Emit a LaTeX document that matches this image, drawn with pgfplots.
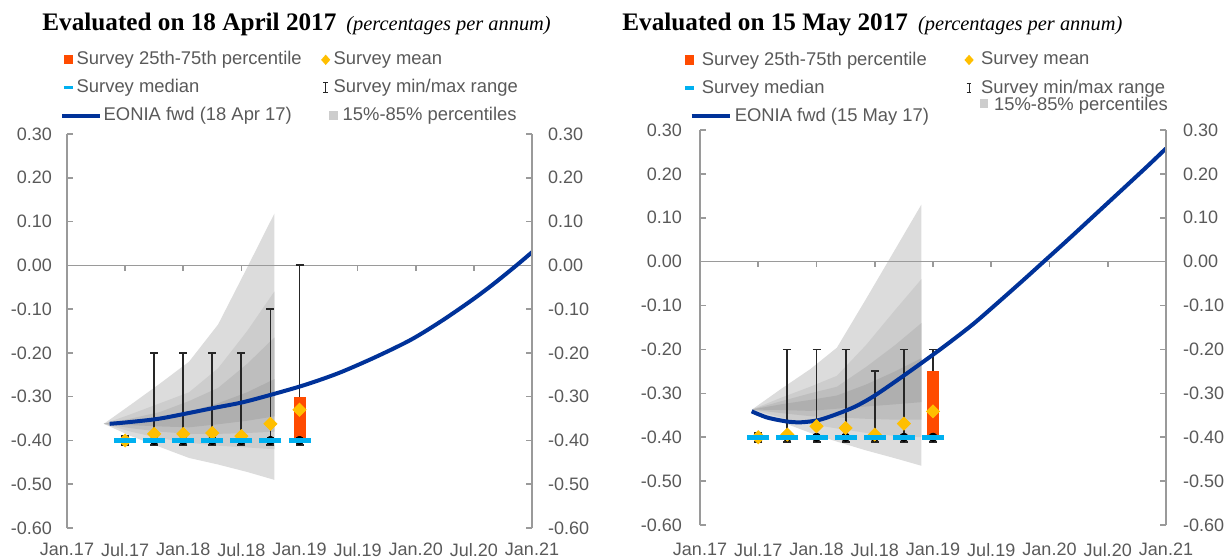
\documentclass[border=0pt]{standalone}
\usepackage{fontspec}
\setmainfont{Liberation Sans}
\newfontfamily\titlefont{Liberation Serif}
\usepackage{pgfplots}
\usepackage{pgfplotstable}
\pgfplotsset{compat=1.18}
\usepgfplotslibrary{fillbetween}

\definecolor{ecborange}{HTML}{FF4B00}
\definecolor{meanyellow}{HTML}{FFBF00}
\definecolor{medcyan}{HTML}{00B0F0}
\definecolor{eoniablue}{HTML}{003299}
\definecolor{fanA}{HTML}{DCDCDC}
\definecolor{fanB}{HTML}{CDCDCD}
\definecolor{fanC}{HTML}{BEBEBE}
\definecolor{fanD}{HTML}{AFAFAF}
\definecolor{axgrey}{HTML}{9A9A9A}
\definecolor{txtgrey}{HTML}{595959}
\definecolor{barblack}{HTML}{262626}

% percentile fans (quantile curves q1 ... q8, outer to inner to outer)
\pgfplotstableread{
x     q1     q2     q3     q4     q5     q6     q7     q8
3.8  -0.362 -0.362 -0.362 -0.362 -0.362 -0.362 -0.362 -0.362
6.6  -0.390 -0.380 -0.372 -0.365 -0.356 -0.350 -0.340 -0.318
9.6  -0.415 -0.395 -0.380 -0.368 -0.348 -0.335 -0.315 -0.270
12.6 -0.440 -0.405 -0.385 -0.370 -0.335 -0.310 -0.290 -0.220
15.6 -0.455 -0.412 -0.385 -0.363 -0.315 -0.280 -0.235 -0.135
18.6 -0.472 -0.416 -0.383 -0.355 -0.290 -0.225 -0.150 -0.005
21.4 -0.490 -0.420 -0.380 -0.345 -0.260 -0.165 -0.060  0.118
}\leftfan

\pgfplotstableread{
x     q1     q2     q3     q4     q5     q6     q7     q8
5.35 -0.337 -0.337 -0.337 -0.337 -0.337 -0.337 -0.337 -0.337
8.35 -0.365 -0.355 -0.345 -0.338 -0.325 -0.318 -0.310 -0.290
11.35 -0.390 -0.370 -0.352 -0.340 -0.315 -0.300 -0.285 -0.245
14.1 -0.410 -0.380 -0.355 -0.335 -0.305 -0.285 -0.260 -0.196
17.1 -0.430 -0.390 -0.358 -0.330 -0.280 -0.240 -0.190 -0.085
20.1 -0.448 -0.397 -0.360 -0.325 -0.250 -0.190 -0.110  0.028
22.8 -0.465 -0.400 -0.360 -0.320 -0.220 -0.140 -0.040  0.130
}\rightfan

% survey: median, mean, 25th, 75th, min, max
\pgfplotstableread{
x  med    mean    p25    p75    min    max
6  -0.40  -0.400  -0.40  -0.40  -0.41  -0.39
9  -0.40  -0.385  -0.40  -0.40  -0.41  -0.20
12 -0.40  -0.385  -0.40  -0.40  -0.41  -0.20
15 -0.40  -0.383  -0.40  -0.40  -0.41  -0.20
18 -0.40  -0.390  -0.40  -0.40  -0.41  -0.20
21 -0.40  -0.362  -0.40  -0.40  -0.41  -0.10
24 -0.40  -0.330  -0.40  -0.30  -0.41   0.00
}\leftsurvey

\pgfplotstableread{
x  med    mean    p25    p75    min    max
6  -0.40  -0.400  -0.40  -0.40  -0.41  -0.39
9  -0.40  -0.394  -0.40  -0.40  -0.41  -0.20
12 -0.40  -0.375  -0.40  -0.40  -0.41  -0.20
15 -0.40  -0.379  -0.40  -0.40  -0.41  -0.20
18 -0.40  -0.394  -0.40  -0.40  -0.41  -0.25
21 -0.40  -0.369  -0.40  -0.40  -0.41  -0.20
24 -0.40  -0.341  -0.40  -0.25  -0.41  -0.20
}\rightsurvey

% EONIA forward curves
\pgfplotstableread{
x     y
4.4  -0.362
6.0  -0.359
9.3  -0.351
12.2 -0.339
15.1 -0.326
18.1 -0.313
21.0 -0.296
24.0 -0.277
26.2 -0.261
28.5 -0.242
31.9 -0.209
35.5 -0.170
38.6 -0.128
41.7 -0.081
44.0 -0.043
46.4  0.000
48.0  0.030
}\lefteonia

\pgfplotstableread{
x     y
5.32 -0.341
6.9  -0.355
8.9  -0.364
10.4 -0.366
12.2 -0.361
14.0 -0.348
16.0 -0.330
18.0 -0.305
20.9 -0.261
24.0 -0.212
26.0 -0.179
28.2 -0.141
30.7 -0.093
33.3 -0.042
35.4  0.000
37.7  0.046
40.2  0.097
42.4  0.142
44.6  0.187
46.3  0.222
48.0  0.258
}\righteonia

\pgfplotsset{
  panel/.style={
    scale only axis,
    xmin=0, xmax=48, ymin=-0.6, ymax=0.3,
    axis x line*=bottom,
    x axis line style={draw=none},
    xtick={0,6,12,18,24,30,36,42,48},
    xticklabels={Jan.17,Jul.17,Jan.18,Jul.18,Jan.19,Jul.19,Jan.20,Jul.20,Jan.21},
    xtick style={draw=none},
    axis y line*=left,
    y axis line style={axgrey, line width=0.8pt},
    ytick={-0.6,-0.5,-0.4,-0.3,-0.2,-0.1,0,0.1,0.2,0.3},
    yticklabels={-0.60,-0.50,-0.40,-0.30,-0.20,-0.10,0.00,0.10,0.20,0.30},
    ytick style={axgrey, line width=0.8pt},
    tick align=inside,
    major tick length=3pt,
    tick label style={font=\fontsize{9}{10}\selectfont, text=txtgrey},
  },
  rightlabels/.style={
    panel, axis x line=none, axis y line*=right,
    yticklabel style={xshift=#1},
  },
  legendbase/.style={
    legend columns=2,
    legend cell align=left,
    legend style={draw=none, fill=none, inner sep=0pt,
      nodes={inner sep=0pt},
      font=\fontsize{9.2}{11}\selectfont, text=txtgrey,
      row sep=5.8pt},
  },
}

\newcommand{\fans}[1]{%
  \addplot[name path=a1, draw=none, forget plot] table[x=x,y=q1] {#1};
  \addplot[name path=a2, draw=none, forget plot] table[x=x,y=q2] {#1};
  \addplot[name path=a3, draw=none, forget plot] table[x=x,y=q3] {#1};
  \addplot[name path=a4, draw=none, forget plot] table[x=x,y=q4] {#1};
  \addplot[name path=a5, draw=none, forget plot] table[x=x,y=q5] {#1};
  \addplot[name path=a6, draw=none, forget plot] table[x=x,y=q6] {#1};
  \addplot[name path=a7, draw=none, forget plot] table[x=x,y=q7] {#1};
  \addplot[name path=a8, draw=none, forget plot] table[x=x,y=q8] {#1};
  \addplot[fanA, forget plot] fill between[of=a1 and a8];
  \addplot[fanB, forget plot] fill between[of=a2 and a7];
  \addplot[fanC, forget plot] fill between[of=a3 and a6];
  \addplot[fanD, forget plot] fill between[of=a4 and a5];
}

\newcommand{\zeroline}{%
  \draw[axgrey, line width=0.8pt] (axis cs:0,0) -- (axis cs:48,0);
  \pgfplotsinvokeforeach{6,12,18,24,30,36,42}{%
    \draw[axgrey, line width=0.8pt] (axis cs:##1,0) -- ++(0pt,-2.8pt);}
}

\newcommand{\survey}[1]{%
  \addplot[forget plot, only marks, mark=none,
    error bars/.cd, y dir=both, y explicit,
    error bar style={line width=0.9pt, barblack},
    error mark options={rotate=90, mark size=2pt, line width=0.9pt, barblack}]
    table[x=x, y=med, y error plus expr=\thisrow{max}-\thisrow{med},
      y error minus expr=\thisrow{med}-\thisrow{min}] {#1};
  \addplot[forget plot, only marks, mark=none,
    error bars/.cd, y dir=plus, y explicit, error mark=none,
    error bar style={line width=6pt, ecborange}]
    table[x=x, y=p25, y error plus expr=\thisrow{p75}-\thisrow{p25}] {#1};
  \addplot[forget plot, meanyellow, only marks, mark=square*, mark size=2.3pt,
    mark options={rotate=45, fill=meanyellow, draw=meanyellow}]
    table[x=x, y=mean] {#1};
  \addplot[forget plot, only marks, mark=-, mark size=5.5pt,
    mark options={medcyan, line width=2.5pt}]
    table[x=x, y=med] {#1};
}

\newcommand{\legendimages}[4]{% eonia label, eonia line, eonia text shift, grey square
  \addlegendimage{legend image code/.code={\path[draw=none, fill=none] (-3pt,-3pt) rectangle (3pt,3pt);
    \fill[ecborange, draw=none] (-2.3pt,-2.3pt) rectangle (2.3pt,2.3pt);}}
  \addlegendentry{Survey 25th-75th percentile}
  \addlegendimage{legend image code/.code={\path[draw=none, fill=none] (-3pt,-3pt) rectangle (3pt,3pt);
    \fill[meanyellow, draw=none] (0,-2.6pt) -- (2.3pt,0) -- (0,2.6pt) -- (-2.3pt,0) -- cycle;}}
  \addlegendentry{Survey mean}
  \addlegendimage{legend image code/.code={\path[draw=none, fill=none] (-3pt,-3pt) rectangle (3pt,3pt);
    \draw[medcyan, fill=none, line width=1.6pt] (-2.3pt,0) -- (2.3pt,0);}}
  \addlegendentry{Survey median}
  \addlegendimage{legend image code/.code={\path[draw=none, fill=none] (-3pt,-3pt) rectangle (3pt,3pt);
    \draw[barblack, fill=none, line width=0.5pt] (0,-2.4pt) -- (0,2.4pt)
      (-1.2pt,-2.4pt) -- (1.2pt,-2.4pt) (-1.2pt,2.4pt) -- (1.2pt,2.4pt);}}
  \addlegendentry{Survey min/max range}
  \addlegendimage{legend image code/.code={\path[draw=none, fill=none] (-3pt,-3pt) rectangle (3pt,3pt);
    \draw[overlay, fill=none, eoniablue, line width=2pt] #2;}}
  \addlegendentry{\hspace*{#3}EONIA fwd (#1)}
  \addlegendimage{legend image code/.code={\path[draw=none, fill=none] (-3pt,-3pt) rectangle (3pt,3pt);
    \fill[overlay, draw=none, fanB] #4;}}
}

\begin{document}
\begin{tikzpicture}

% ---------------- left panel ----------------
\node[anchor=base west, inner sep=0pt] at (21pt,263.5pt)
  {\titlefont\fontsize{12.6}{14}\selectfont\bfseries Evaluated on 18 April 2017\hspace{5pt}\mdseries\itshape\fontsize{10.2}{12}\selectfont(percentages per annum)};

\begin{axis}[panel, legendbase,
  at={(33.5pt,15pt)}, anchor=south west, width=232.5pt, height=197pt,
  yticklabel style={xshift=-4pt}, xticklabel style={yshift=-4pt},
  legend style={at={(axis description cs:-0.011,1.210)}, anchor=north west,
    /tikz/every odd column/.append style={column sep=1pt},
    /tikz/every even column/.append style={column sep=9pt}}]
\fans{\leftfan}
\zeroline
\survey{\leftsurvey}
\addplot[forget plot, eoniablue, line width=2pt, smooth] table[x=x,y=y] {\lefteonia};
\legendimages{18 Apr 17}{(-3pt,0) -- (16pt,0)}{13.5pt}{(1.8pt,-2.2pt) rectangle (6.2pt,2.2pt)}
\addlegendentry{\hspace*{4.5pt}15\%-85\% percentiles}
\end{axis}
\begin{axis}[rightlabels=4.5pt, at={(33.5pt,15pt)}, anchor=south west, width=232.5pt, height=197pt]
\addplot[draw=none, forget plot] table[x=x,y=y] {\lefteonia};
\end{axis}

% ---------------- right panel ----------------
\node[anchor=base west, inner sep=0pt] at (311pt,263.5pt)
  {\titlefont\fontsize{12.6}{14}\selectfont\bfseries Evaluated on 15 May 2017\hspace{5pt}\mdseries\itshape\fontsize{10.2}{12}\selectfont(percentages per annum)};

\begin{axis}[panel, legendbase,
  at={(350pt,16.5pt)}, anchor=south west, width=233pt, height=197.5pt,
  yticklabel style={xshift=-5.5pt}, xticklabel style={yshift=-5.5pt},
  legend style={at={(axis description cs:-0.0365,1.199)}, anchor=north west,
    /tikz/every odd column/.append style={column sep=3pt},
    /tikz/every even column/.append style={column sep=17pt}}]
\fans{\rightfan}
\zeroline
\survey{\rightsurvey}
\addplot[forget plot, eoniablue, line width=2pt, smooth] table[x=x,y=y] {\righteonia};
\legendimages{15 May 17}{(1pt,0) -- (20pt,0)}{16.5pt}{(5.3pt,3.8pt) rectangle (9.7pt,8.2pt)}
\addlegendentry{\smash{\raisebox{2.1pt}{\hspace*{6.5pt}15\%-85\% percentiles}}}
\end{axis}
\begin{axis}[rightlabels=5pt, at={(350pt,16.5pt)}, anchor=south west, width=233pt, height=197.5pt]
\addplot[draw=none, forget plot] table[x=x,y=y] {\righteonia};
\end{axis}

\pgfresetboundingbox
\path[use as bounding box] (0,0) rectangle (613pt,279pt);
\end{tikzpicture}
\end{document}
